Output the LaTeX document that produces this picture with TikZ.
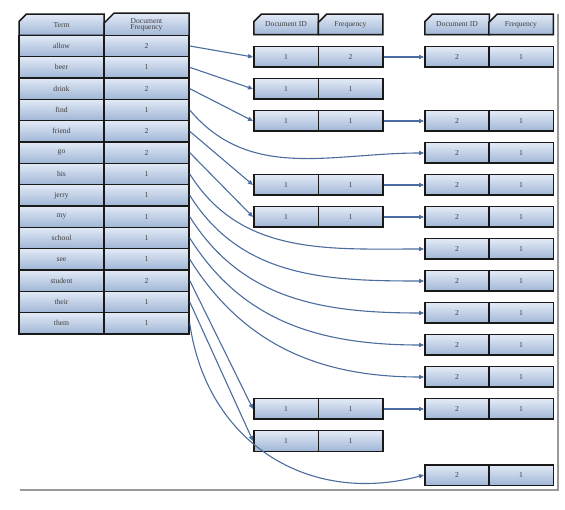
\documentclass[tikz,border=0pt]{standalone}
\usepackage{fontspec}
\setmainfont{Liberation Serif}
\usetikzlibrary{shapes.misc,shadows,arrows.meta}
\definecolor{arr}{RGB}{75,108,158}
\definecolor{ctop}{RGB}{226,234,246}
\definecolor{cbot}{RGB}{160,182,214}
\tikzset{
  cell/.style={rectangle, draw=black!90, line width=1.5pt, top color=ctop, bottom color=cbot,
    inner sep=0pt, font=\fontsize{7.6}{8}\selectfont, text=black!75,
    drop shadow={shadow xshift=1.2pt, shadow yshift=-1.2pt, opacity=0.25}},
  lcell/.style={cell, minimum width=85pt, minimum height=21.33pt},
  pcell/.style={cell, minimum width=64.5pt, minimum height=20.5pt},
  hdr/.style={chamfered rectangle, chamfered rectangle corners=north west,
    chamfered rectangle xsep=5pt, chamfered rectangle ysep=5pt, align=center},
  link/.style={draw=arr, line width=1.1pt, -{Triangle[length=5pt,width=4.2pt]}},
}
\begin{document}
\begin{tikzpicture}[x=1pt,y=1pt]
\useasboundingbox (0,0) rectangle (565,-510);
% outer frame shadow
\draw[gray!80, line width=2pt] (20,-490) -- (558,-490) -- (558,-14);
% left table
\node[lcell,hdr] (th) at (61.5,-24.7) {Term};
\node[lcell,hdr] (dh) at (146.5,-24.7) {Document\\[-1.5pt]Frequency};
\foreach \t/\d [count=\i] in {allow/2,beer/1,drink/2,find/1,friend/2,go/2,his/1,jerry/1,my/1,school/1,see/1,student/2,their/1,them/1}{
  \node[lcell] (t\i) at (61.5,{-46-21.33*(\i-1)}) {\t};
  \node[lcell] (d\i) at (146.5,{-46-21.33*(\i-1)}) {\d};
}
% middle column
\node[pcell,hdr] (mih) at (286,-24.5) {Document ID};
\node[pcell,hdr] (mfh) at (350.5,-24.5) {Frequency};
\foreach \k/\y/\f in {1/57/2,2/89/1,3/121/1,5/185/1,6/217/1,12/409/1,13/441/1}{
  \node[pcell] (mi\k) at (286,-\y) {1};
  \node[pcell] (mf\k) at (350.5,-\y) {\f};
}
% right column
\node[pcell,hdr] (rih) at (457,-24.5) {Document ID};
\node[pcell,hdr] (rfh) at (521,-24.5) {Frequency};
\foreach \k/\y in {1/57,3/121,4/153,5/185,6/217,7/249,8/281,9/313,10/345,11/377,12/409,14/475}{
  \node[pcell] (ri\k) at (457,-\y) {2};
  \node[pcell] (rf\k) at (521,-\y) {1};
}
% links term -> first posting
\foreach \k in {1,2,3,5,6,12,13}{
  \draw[link] (d\k.east) -- (mi\k.west);
}
% links first posting -> second posting
\foreach \k in {1,3,5,6,12}{
  \draw[link] (mf\k.east) -- (ri\k.west);
}
% curved links term -> doc 2 posting
\draw[link] (d4.east) to[out=-50,in=180] (ri4.west);
\foreach \k in {7,8,9,10,11}{
  \draw[link] (d\k.east) to[out=-58,in=180] (ri\k.west);
}
\draw[link] (d14.east) to[out=-82,in=195,looseness=1.1] (ri14.west);
\end{tikzpicture}
\end{document}
